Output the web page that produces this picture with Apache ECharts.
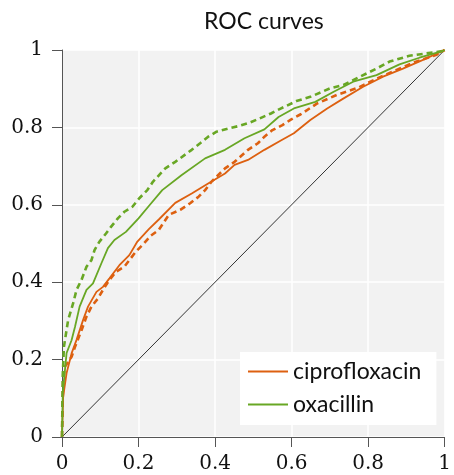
<!DOCTYPE html>
<html>
<head>
<meta charset="utf-8">
<script src="https://cdn.jsdelivr.net/npm/echarts@6/dist/echarts.min.js"></script>
<style>html,body{margin:0;padding:0;background:#fff}#c{width:454px;height:475px}</style>
</head>
<body>
<div id="c"></div>
<script>
const seriesNames = ['ciprofloxacin', 'oxacillin'];
const tickLabels = ['0', '0.2', '0.4', '0.6', '0.8', '1'];

const ciproFpr = [0, 0.003, 0.012, 0.025, 0.038, 0.055, 0.068, 0.09, 0.107, 0.124, 0.15, 0.176, 0.197, 0.227, 0.253, 0.296, 0.339, 0.382, 0.426, 0.451, 0.486, 0.529, 0.572, 0.606, 0.649, 0.693, 0.736, 0.787, 0.839, 0.891, 0.942, 1];
const ciproTpr = [0, 0.104, 0.165, 0.216, 0.251, 0.302, 0.337, 0.375, 0.388, 0.41, 0.444, 0.47, 0.505, 0.537, 0.562, 0.605, 0.629, 0.655, 0.681, 0.703, 0.716, 0.742, 0.766, 0.785, 0.819, 0.849, 0.875, 0.905, 0.931, 0.952, 0.974, 1];

const ciproDashFpr = [0, 0.003, 0.008, 0.025, 0.034, 0.051, 0.064, 0.077, 0.094, 0.107, 0.124, 0.141, 0.163, 0.193, 0.214, 0.232, 0.253, 0.279, 0.309, 0.335, 0.357, 0.374, 0.391, 0.426, 0.451, 0.486, 0.512, 0.529, 0.55, 0.576, 0.598, 0.624, 0.667, 0.718, 0.775, 0.822, 0.873, 0.925, 0.977, 1];
const ciproDashTpr = [0, 0.147, 0.182, 0.207, 0.233, 0.276, 0.311, 0.337, 0.358, 0.38, 0.406, 0.427, 0.44, 0.479, 0.5, 0.52, 0.535, 0.574, 0.587, 0.604, 0.621, 0.638, 0.66, 0.694, 0.711, 0.742, 0.759, 0.776, 0.793, 0.806, 0.82, 0.834, 0.862, 0.884, 0.903, 0.926, 0.948, 0.97, 0.987, 1];

const oxaFpr = [0, 0.002, 0.012, 0.025, 0.034, 0.046, 0.064, 0.081, 0.103, 0.12, 0.137, 0.167, 0.2, 0.227, 0.262, 0.313, 0.374, 0.426, 0.477, 0.529, 0.566, 0.606, 0.662, 0.71, 0.761, 0.822, 0.882, 0.934, 0.994, 1];
const oxaTpr = [0, 0.114, 0.217, 0.25, 0.285, 0.337, 0.38, 0.397, 0.449, 0.488, 0.509, 0.53, 0.565, 0.597, 0.638, 0.677, 0.72, 0.742, 0.772, 0.795, 0.827, 0.849, 0.866, 0.892, 0.918, 0.935, 0.963, 0.98, 0.997, 1];

const oxaDashFpr = [0, 0.002, 0.005, 0.016, 0.029, 0.038, 0.051, 0.064, 0.077, 0.085, 0.098, 0.115, 0.128, 0.146, 0.163, 0.184, 0.202, 0.223, 0.238, 0.27, 0.296, 0.339, 0.361, 0.382, 0.404, 0.434, 0.464, 0.49, 0.516, 0.546, 0.57, 0.615, 0.649, 0.701, 0.736, 0.779, 0.822, 0.856, 0.908, 0.951, 0.994, 1];
const oxaDashTpr = [0, 0.16, 0.233, 0.302, 0.345, 0.38, 0.406, 0.44, 0.457, 0.483, 0.505, 0.526, 0.543, 0.565, 0.582, 0.595, 0.617, 0.638, 0.66, 0.694, 0.711, 0.742, 0.759, 0.776, 0.789, 0.797, 0.804, 0.812, 0.823, 0.836, 0.848, 0.869, 0.879, 0.901, 0.91, 0.931, 0.952, 0.97, 0.985, 0.991, 0.997, 1];

const diagX = [0, 1];
const diagY = [0, 1];

const pairs = (xs, ys) => xs.map((x, i) => [x, ys[i]]);

const ORANGE = '#dd6010';
const GREEN = '#68a724';
const SERIF = '"DejaVu Serif"';
const SANS = 'Lato';

const chart = echarts.init(document.getElementById('c'), null, {renderer: 'canvas'});
function axis(margin) {
  return {
    type: 'value', min: 0, max: 1, interval: 0.2,
    axisLine: {show: true, lineStyle: {color: '#555', width: 1}},
    axisTick: {show: true, inside: false, length: 10, lineStyle: {color: '#555', width: 1}},
    splitLine: {show: true, lineStyle: {color: '#ffffff', width: 1.5}},
    axisLabel: {fontFamily: SERIF, fontSize: 20, color: '#111', margin: margin,
      formatter: v => tickLabels[Math.round(v * 5)]}
  };
}
chart.setOption({
  animation: false,
  textStyle: {fontFamily: SERIF},
  title: {text: 'ROC curves', left: 199, top: 5,
    textStyle: {fontFamily: SANS, fontWeight: 'normal', fontSize: 23, color: '#111'}},
  grid: {left: 62, right: 5, top: 50, bottom: 38, show: true, backgroundColor: '#f2f2f2', borderWidth: 0},
  xAxis: axis(17),
  yAxis: axis(19),
  legend: {
    data: seriesNames, orient: 'vertical', left: 240, top: 352,
    backgroundColor: '#ffffff', padding: [8, 15, 9, 8], itemGap: 10,
    icon: 'rect', itemWidth: 40, itemHeight: 2,
    textStyle: {fontFamily: SANS, fontSize: 23, color: '#111'}
  },
  series: [
    {name: 'diagonal', type: 'line', data: pairs(diagX, diagY), symbol: 'none',
      lineStyle: {color: '#333', width: 1}, silent: true},
    {name: seriesNames[0] + ' (dashed)', type: 'line', data: pairs(ciproDashFpr, ciproDashTpr), symbol: 'none',
      lineStyle: {color: ORANGE, width: 2.6, type: [6, 4]}},
    {name: seriesNames[1] + ' (dashed)', type: 'line', data: pairs(oxaDashFpr, oxaDashTpr), symbol: 'none',
      lineStyle: {color: GREEN, width: 2.6, type: [6, 4]}},
    {name: seriesNames[0], type: 'line', data: pairs(ciproFpr, ciproTpr), symbol: 'none', color: ORANGE,
      lineStyle: {color: ORANGE, width: 1.8}},
    {name: seriesNames[1], type: 'line', data: pairs(oxaFpr, oxaTpr), symbol: 'none', color: GREEN,
      lineStyle: {color: GREEN, width: 1.8}}
  ]
});
</script>
</body>
</html>
